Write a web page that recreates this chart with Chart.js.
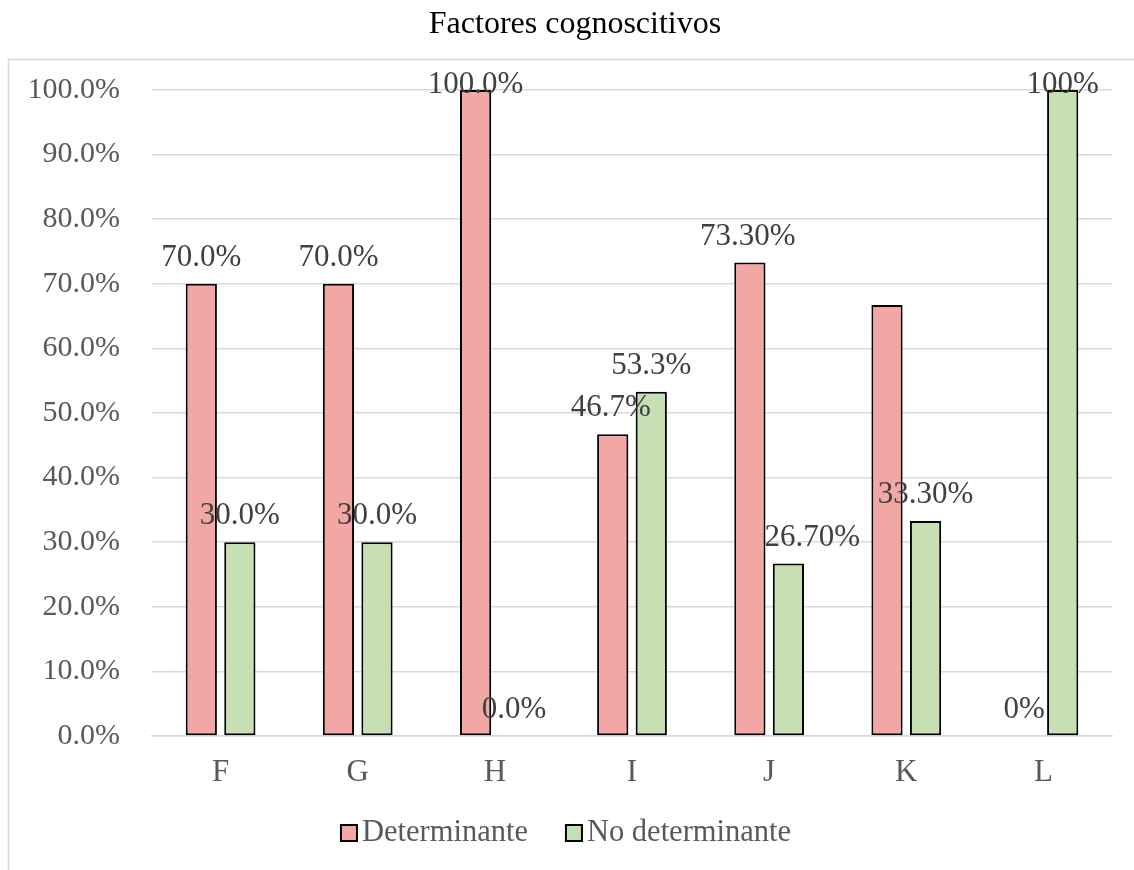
<!DOCTYPE html>
<html>
<head>
<meta charset="utf-8">
<script src="https://cdn.jsdelivr.net/npm/chart.js@4.4.1/dist/chart.umd.min.js"></script>
<style>
  html, body { margin: 0; padding: 0; background: #fff; }
  #wrap { width: 1134px; height: 870px; }
</style>
</head>
<body>
<div id="wrap"><canvas id="chart"></canvas></div>
<script>
const categories = ["F", "G", "H", "I", "J", "K", "L"]
const determinante = [70, 70, 100, 46.7, 73.3, 66.7, 0]
const noDeterminante = [30, 30, 0, 53.3, 26.7, 33.3, 100]
const etiquetasDet = ["70.0%", "70.0%", "100.0%", "46.7%", "73.30%", "", "0%"]
const etiquetasNoDet = ["30.0%", "30.0%", "0.0%", "53.3%", "26.70%", "33.30%", "100%"]
const yTicks = [0, 10, 20, 30, 40, 50, 60, 70, 80, 90, 100]

// some labels were nudged sideways by hand
const shiftDet = [0, 0, 0, -2, -2, 0, 0]
const shiftNoDet = [0, 0, 0, 0, 24, 0, 0]

const serif = "'Liberation Serif', 'Times New Roman', serif"
const grey = "#595959"
const gridColor = "#d9d9d9"
const colorDet = "#f2a7a5"
const colorNoDet = "#c6e0b4"

const frame = {
  id: "frame",
  beforeDraw(chart) {
    const ctx = chart.ctx
    ctx.save()
    ctx.fillStyle = "#fff"
    ctx.fillRect(0, 0, chart.width, chart.height)
    ctx.strokeStyle = gridColor
    ctx.lineWidth = 1.5
    ctx.beginPath()
    ctx.moveTo(8.5, chart.height)
    ctx.lineTo(8.5, 59.5)
    ctx.lineTo(chart.width, 59.5)
    ctx.stroke()

    ctx.fillStyle = "#000"
    ctx.font = "32px " + serif
    ctx.textAlign = "center"
    ctx.textBaseline = "alphabetic"
    ctx.fillText("Factores cognoscitivos", 575, 33)
    ctx.restore()
  }
}

// legend drawn below the axis, boxes close to their text
const legendBelow = {
  id: "legendBelow",
  afterDraw(chart) {
    const ctx = chart.ctx
    const items = chart.data.datasets.map(ds => ({ text: ds.label, fill: ds.backgroundColor }))
    const box = 16, gap = 5, spacing = 38, cy = 833
    ctx.save()
    ctx.font = "30.5px " + serif
    const widths = items.map(it => box + gap + ctx.measureText(it.text).width)
    const total = widths.reduce((a, b) => a + b, 0) + spacing * (items.length - 1)
    let x = 566 - total / 2
    items.forEach((it, i) => {
      ctx.fillStyle = it.fill
      ctx.fillRect(x, cy - box / 2, box, box)
      ctx.strokeStyle = "#000"
      ctx.lineWidth = 2
      ctx.strokeRect(x, cy - box / 2, box, box)
      ctx.fillStyle = grey
      ctx.textAlign = "left"
      ctx.textBaseline = "middle"
      ctx.fillText(it.text, x + box + gap, cy)
      x += widths[i] + spacing
    })
    ctx.restore()
  }
}

const valueLabels = {
  id: "valueLabels",
  afterDatasetsDraw(chart) {
    const ctx = chart.ctx
    const top = chart.chartArea.top
    ctx.save()
    ctx.font = "31px " + serif
    ctx.fillStyle = "#404040"
    ctx.textAlign = "center"
    ctx.textBaseline = "middle"
    chart.data.datasets.forEach((ds, i) => {
      const meta = chart.getDatasetMeta(i)
      meta.data.forEach((bar, j) => {
        const txt = ds.valueText[j]
        if (!txt) return
        const y = Math.max(bar.y - 26, top - 5)
        ctx.fillText(txt, bar.x + ds.shift[j], y)
      })
    })
    ctx.restore()
  }
}

const barStyle = {
  borderColor: "#000",
  borderWidth: (c) => c.raw === 0 ? 0 : 2,
  borderSkipped: false,
  categoryPercentage: 0.562,
  barPercentage: 0.81
}

const ctx = document.getElementById("chart").getContext("2d")
const chart = new Chart(ctx, {
  type: "bar",
  data: {
    labels: categories,
    datasets: [
      Object.assign({
        label: "Determinante",
        data: determinante,
        valueText: etiquetasDet,
        shift: shiftDet,
        backgroundColor: colorDet
      }, barStyle),
      Object.assign({
        label: "No determinante",
        data: noDeterminante,
        valueText: etiquetasNoDet,
        shift: shiftNoDet,
        backgroundColor: colorNoDet
      }, barStyle)
    ]
  },
  options: {
    responsive: true,
    maintainAspectRatio: false,
    animation: false,
    layout: { padding: { left: 0, right: 22, top: 90, bottom: 0 } },
    plugins: {
      title: { display: false },
      legend: { display: false },
      tooltip: { enabled: false }
    },
    scales: {
      x: {
        afterFit(scale) { scale.height = 134 },
        grid: { display: false },
        border: { color: gridColor, width: 1.5 },
        ticks: { color: grey, font: { family: serif, size: 31 }, padding: 10 }
      },
      y: {
        min: 0,
        max: 100,
        afterFit(scale) { scale.width = 152 },
        afterBuildTicks(scale) { scale.ticks = yTicks.map(v => ({ value: v })) },
        border: { display: false },
        grid: { color: gridColor, lineWidth: 1.5, drawTicks: false },
        ticks: {
          color: grey,
          font: { family: serif, size: 30 },
          padding: 32,
          callback: (v) => v.toFixed(1) + "%"
        }
      }
    }
  },
  plugins: [frame, valueLabels, legendBelow]
})
</script>
</body>
</html>
